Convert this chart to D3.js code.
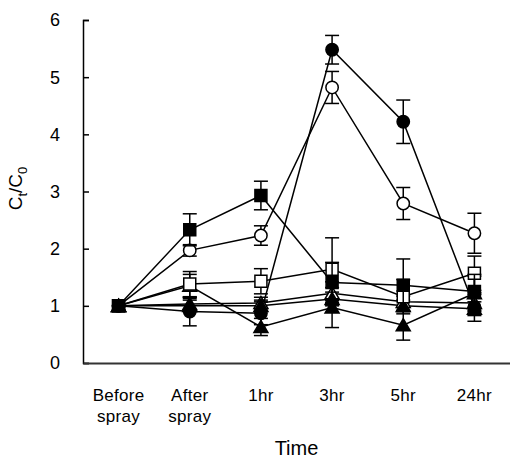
<!DOCTYPE html>
<html>
<head>
<meta charset="utf-8">
<script src="https://cdn.jsdelivr.net/npm/d3@7"></script>
<style>
  body { margin: 0; background: #fff; }
  text { font-family: "Liberation Sans", Arial, sans-serif; fill: #000; }
</style>
</head>
<body>
<div id="chart"></div>
<script>
// categories (x), two-line labels
const categories = ['Before spray', 'After spray', '1hr', '3hr', '5hr', '24hr'];
const tickLines = [['Before', 'spray'], ['After', 'spray'], ['1hr'], ['3hr'], ['5hr'], ['24hr']];
const yTicks = [0, 1, 2, 3, 4, 5, 6];

// series values (Ct/C0) and error bars
const filledCircle = [1, 0.90, 0.87, 5.48, 4.22, 0.98];
const filledCircleErr = [0, 0.25, 0.2, 0.25, 0.38, 0.25];
const openCircle = [1, 1.97, 2.23, 4.82, 2.79, 2.27];
const openCircleErr = [0, 0.1, 0.17, 0.28, 0.28, 0.35];
const filledSquare = [1, 2.33, 2.93, 1.41, 1.36, 1.25];
const filledSquareErr = [0, 0.28, 0.25, 0.35, 0.46, 0.3];
const openSquare = [1, 1.38, 1.43, 1.64, 1.16, 1.57];
const openSquareErr = [0, 0.22, 0.22, 0.55, 0.3, 0.3];
const filledTriangle = [1, 1.35, 0.63, 0.97, 0.66, 1.22];
const filledTriangleErr = [0, 0.2, 0.15, 0.35, 0.26, 0.3];
const openTriangle = [1, 1.03, 1.05, 1.22, 1.07, 1.05];
const openTriangleErr = [0, 0.1, 0.1, 0.2, 0.1, 0.15];
const smallTriangle = [1, 1.0, 1.0, 1.12, 1.0, 0.95];
const smallTriangleErr = [0, 0.1, 0.1, 0.12, 0.1, 0.12];

const series = [
  { values: openTriangle, err: openTriangleErr, shape: d3.symbolTriangle, fill: '#fff' },
  { values: smallTriangle, err: smallTriangleErr, shape: d3.symbolTriangle, fill: '#000' },
  { values: filledTriangle, err: filledTriangleErr, shape: d3.symbolTriangle, fill: '#000' },
  { values: openSquare, err: openSquareErr, shape: d3.symbolSquare, fill: '#fff' },
  { values: openCircle, err: openCircleErr, shape: d3.symbolCircle, fill: '#fff' },
  { values: filledCircle, err: filledCircleErr, shape: d3.symbolCircle, fill: '#000' },
  { values: filledSquare, err: filledSquareErr, shape: d3.symbolSquare, fill: '#000' }
];

const width = 510, height = 462;
const margin = { top: 20, right: 0, bottom: 99, left: 83 };

const svg = d3.select('#chart').append('svg')
  .attr('width', width)
  .attr('height', height);

const x = d3.scaleBand()
  .domain(categories)
  .range([margin.left, width - margin.right]);

const y = d3.scaleLinear()
  .domain([0, 6])
  .range([height - margin.bottom, margin.top]);

const cx = c => x(c) + x.bandwidth() / 2;

// y axis with inside ticks
const yAxis = svg.append('g')
  .attr('transform', `translate(${margin.left},0)`)
  .call(d3.axisRight(y).tickValues(yTicks).tickSize(6).tickFormat(''));
yAxis.select('.domain').attr('stroke', '#000').attr('stroke-width', 1.5);
yAxis.selectAll('.tick line').attr('stroke', '#000').attr('stroke-width', 1.5);

svg.append('g').selectAll('text')
  .data(yTicks)
  .join('text')
  .attr('x', margin.left - 23)
  .attr('y', d => y(d))
  .attr('dy', '0.36em')
  .attr('text-anchor', 'end')
  .style('font-size', '18px')
  .text(d => d);

// x axis line
const xAxis = svg.append('g')
  .attr('transform', `translate(0,${y(0)})`)
  .call(d3.axisBottom(x).tickSize(0).tickFormat(''));
xAxis.select('.domain').attr('stroke', '#333').attr('stroke-width', 2);

// x tick labels
const xl = svg.append('g').selectAll('text')
  .data(categories)
  .join('text')
  .attr('x', d => cx(d))
  .attr('y', y(0) + 38)
  .attr('text-anchor', 'middle')
  .style('font-size', '17px')
  .style('letter-spacing', '0.3px');
xl.each(function(d, i) {
  d3.select(this).selectAll('tspan')
    .data(tickLines[i])
    .join('tspan')
    .attr('x', cx(d))
    .attr('dy', (t, j) => j === 0 ? 0 : 21)
    .text(t => t);
});

// axis titles
svg.append('text')
  .attr('x', (margin.left + width - margin.right) / 2)
  .attr('y', 455)
  .attr('text-anchor', 'middle')
  .style('font-size', '20px')
  .text('Time');

const yt = svg.append('text')
  .attr('transform', `translate(22,${y(3) - 3}) rotate(-90)`)
  .attr('text-anchor', 'middle')
  .style('font-size', '19px');
yt.append('tspan').text('C');
yt.append('tspan').attr('dy', 5).style('font-size', '13px').text('t');
yt.append('tspan').attr('dy', -5).text('/C');
yt.append('tspan').attr('dy', 5).style('font-size', '13px').text('0');

const line = d3.line()
  .x((v, i) => cx(categories[i]))
  .y(v => y(v));

const plot = svg.append('g');
const capW = 7;

series.forEach(s => {
  plot.append('path')
    .datum(s.values)
    .attr('fill', 'none')
    .attr('stroke', '#000')
    .attr('stroke-width', 1.5)
    .attr('d', line);
});

series.forEach(s => {
  const g = plot.append('g');
  s.values.forEach((v, i) => {
    const px = cx(categories[i]);
    const e = s.err[i];
    if (e > 0) {
      g.append('line')
        .attr('x1', px).attr('x2', px)
        .attr('y1', y(v - e)).attr('y2', y(v + e))
        .attr('stroke', '#000').attr('stroke-width', 1.5);
      [v - e, v + e].forEach(w => {
        g.append('line')
          .attr('x1', px - capW).attr('x2', px + capW)
          .attr('y1', y(w)).attr('y2', y(w))
          .attr('stroke', '#000').attr('stroke-width', 1.5);
      });
    }
  });
  const size = s.shape === d3.symbolCircle ? 120 : s.shape === d3.symbolSquare ? 144 : 85;
  g.selectAll('path.m')
    .data(s.values)
    .join('path')
    .attr('class', 'm')
    .attr('transform', (v, i) => `translate(${cx(categories[i])},${y(v) + (s.shape === d3.symbolTriangle ? 1.5 : 0)})`)
    .attr('d', d3.symbol().type(s.shape).size(size))
    .attr('fill', s.fill)
    .attr('stroke', '#000')
    .attr('stroke-width', 1.5);
});
</script>
</body>
</html>
